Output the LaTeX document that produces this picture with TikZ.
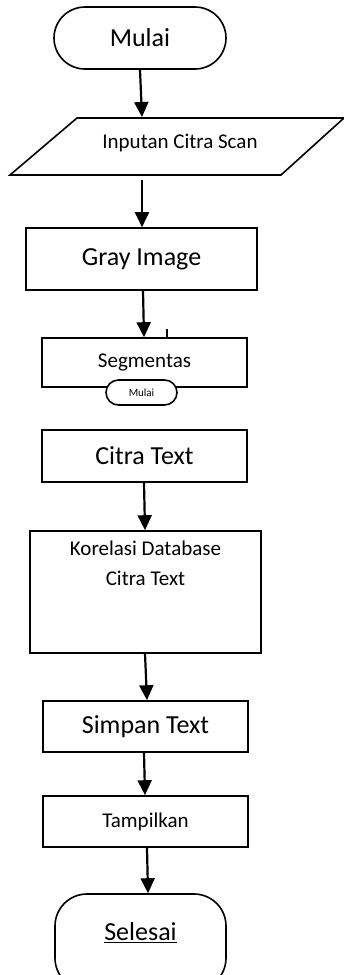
\documentclass[tikz,border=0pt]{standalone}
\usepackage{fontspec}
\setmainfont{Carlito}
\usetikzlibrary{arrows.meta}

\tikzset{
  big/.style={font=\fontsize{26}{30}\selectfont},
  mid/.style={font=\fontsize{21}{30}\selectfont},
  tiny/.style={font=\fontsize{11}{13}\selectfont},
  procbox/.style={draw, line width=1.6pt, rectangle, inner sep=0pt},
  termbox/.style={draw, line width=1.6pt, rectangle, inner sep=0pt},
  flow/.style={line width=2.2pt, -{Triangle[width=14pt,length=15pt]}},
}

\begin{document}
\begin{tikzpicture}[x=1pt,y=-1pt]
  \useasboundingbox (0,0) rectangle (344,975);
  \clip (0,0) rectangle (344,975);

  % start terminal
  \node[termbox, big, rounded corners=31pt, minimum width=172pt, minimum height=62pt]
    (mulai) at (140,38) {Mulai};

  % input parallelogram
  \draw[line width=1.6pt] (77,118) -- (344,118) -- (281,175) -- (10,175) -- cycle;
  \node[mid, inner sep=0pt] (inp) at (180,143) {Inputan Citra Scan};
  \coordinate (inpT) at (142,117);
  \coordinate (inpB) at (142,180);

  % process steps
  \node[procbox, big, minimum width=231pt, minimum height=62pt] (gray) at (141.5,259) {Gray Image};
  \node[procbox, mid, minimum width=205pt, minimum height=49pt] (seg) at (144.5,362.5) {Segmentas};
  \node[termbox, tiny, rounded corners=12.5pt, minimum width=71pt, minimum height=25pt, fill=white]
    (mini) at (141.5,392.5) {Mulai};
  \node[procbox, big, minimum width=205pt, minimum height=52pt] (citra) at (144.5,456) {Citra Text};
  \node[procbox, minimum width=231pt, minimum height=122pt,
        label={[mid, align=center, anchor=north, inner sep=0pt, yshift=-11pt]north:Korelasi Database\\Citra Text}]
    (kor) at (145.5,592) {};
  \node[procbox, big, minimum width=205pt, minimum height=51pt] (simpan) at (145.5,726.5) {Simpan Text};
  \node[procbox, mid, minimum width=205pt, minimum height=51pt] (tamp) at (145.5,821.5) {Tampilkan};

  % end terminal (runs past the lower edge)
  \node[termbox, rounded corners=32pt, minimum width=171pt, minimum height=96pt]
    (selesai) at (140.5,942) {};
  \node[big, inner sep=0pt] (selesaiT) at (140.5,933) {\underline{Selesai}};

  % connectors
  \draw[flow] ([xshift=0pt]mulai.south) -- (inpT);
  \draw[flow] (inpB) -- ([xshift=0.5pt]gray.north);
  \draw[flow] ([xshift=1.5pt]gray.south) -- ([xshift=-0.5pt]seg.north);
  \draw[line width=1.6pt] ([xshift=22.5pt]seg.north) -- ++(0,-8);
  \draw[flow] ([xshift=-0.5pt]citra.south) -- ([xshift=-0.5pt]kor.north);
  \draw[flow] ([xshift=-0.5pt]kor.south) -- ([xshift=1.5pt]simpan.north);
  \draw[flow] ([xshift=-1.5pt]simpan.south) -- ([xshift=-0.5pt]tamp.north);
  \draw[flow] ([xshift=1.5pt]tamp.south) -- ([xshift=7.5pt]selesai.north);
\end{tikzpicture}
\end{document}
